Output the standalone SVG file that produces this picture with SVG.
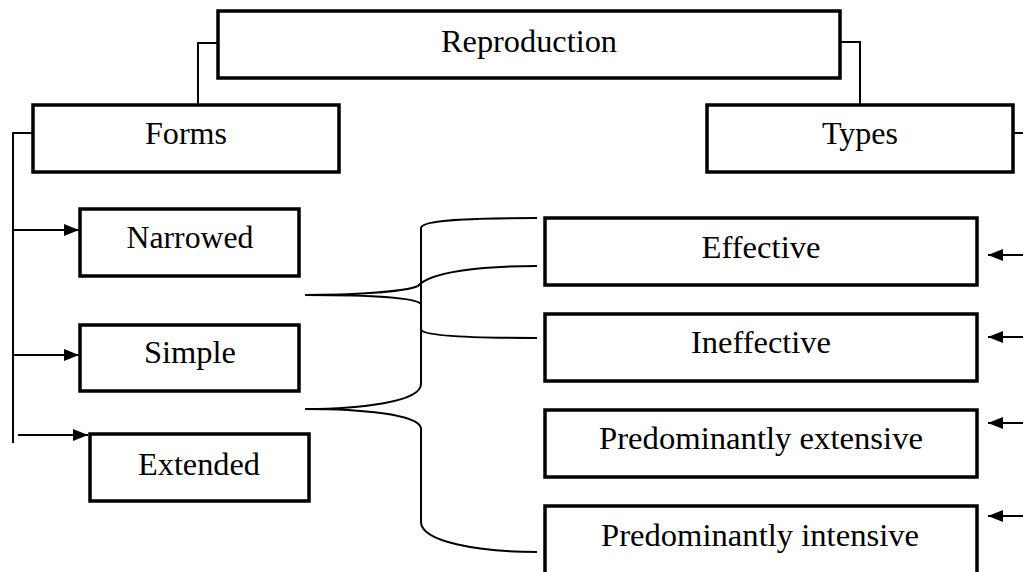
<svg xmlns="http://www.w3.org/2000/svg" width="1023" height="572" viewBox="0 0 1023 572">
<style>
.box{fill:#fff;stroke:#000;stroke-width:3.5}
.t{font-family:"Liberation Serif","Times New Roman",serif;font-size:32px;fill:#000;text-anchor:middle}
.c{fill:none;stroke:#000;stroke-width:2}
</style>
<defs>
<marker id="ah" viewBox="0 0 15 12" refX="15" refY="6" markerWidth="15" markerHeight="12" markerUnits="userSpaceOnUse" orient="auto">
<path d="M0,0 L15,6 L0,12 Z" fill="#000"/>
</marker>
</defs>
<g id="connectors">
<path class="c" d="M218,43 H198 V113"/>
<path class="c" d="M840,42 H860 V112"/>
<path class="c" d="M1013,133 H1023"/>
<path class="c" d="M33,133 H13 V443"/>
<path class="c" d="M13,230 H79" marker-end="url(#ah)"/>
<path class="c" d="M13,355 H79" marker-end="url(#ah)"/>
<path class="c" d="M18,435 H88" marker-end="url(#ah)"/>
<path class="c" d="M1023,255 H988" marker-end="url(#ah)"/>
<path class="c" d="M1023,337 H988" marker-end="url(#ah)"/>
<path class="c" d="M1023,423 H988" marker-end="url(#ah)"/>
<path class="c" d="M1023,516 H988" marker-end="url(#ah)"/>
<path class="c" d="M537,218 C470,218 421,220 421,228 V384 C421,402 360,409 305,409"/>
<path class="c" d="M305,295 C360,295 415,297 421,304"/>
<path class="c" d="M421,330 C425,336 480,338 537,338"/>
<path class="c" d="M305,295 C350,295 405,292 418,286 C430,272 480,266 537,266"/>
<path class="c" d="M305,409 C360,409 418,414 421,428 V522 C421,542 480,552 537,552"/>
</g>
<g id="reproduction"><rect class="box" x="218" y="11" width="622" height="67"/><text class="t" x="529" y="52" textLength="176" lengthAdjust="spacingAndGlyphs">Reproduction</text></g>
<g id="forms"><rect class="box" x="33" y="105" width="306" height="67"/><text class="t" x="186" y="144" textLength="82" lengthAdjust="spacingAndGlyphs">Forms</text></g>
<g id="types"><rect class="box" x="707" y="105" width="306" height="67"/><text class="t" x="860" y="144" textLength="76" lengthAdjust="spacingAndGlyphs">Types</text></g>
<g id="narrowed"><rect class="box" x="80" y="209" width="219" height="67"/><text class="t" x="190" y="248" textLength="127" lengthAdjust="spacingAndGlyphs">Narrowed</text></g>
<g id="simple"><rect class="box" x="80" y="325" width="219" height="66"/><text class="t" x="190" y="363" textLength="92" lengthAdjust="spacingAndGlyphs">Simple</text></g>
<g id="extended"><rect class="box" x="90" y="434" width="219" height="67"/><text class="t" x="199" y="475" textLength="122" lengthAdjust="spacingAndGlyphs">Extended</text></g>
<g id="effective"><rect class="box" x="545" y="218" width="432" height="67"/><text class="t" x="761" y="258" textLength="119" lengthAdjust="spacingAndGlyphs">Effective</text></g>
<g id="ineffective"><rect class="box" x="545" y="314" width="432" height="67"/><text class="t" x="761" y="353" textLength="140" lengthAdjust="spacingAndGlyphs">Ineffective</text></g>
<g id="extensive"><rect class="box" x="545" y="410" width="432" height="67"/><text class="t" x="761" y="449" textLength="324" lengthAdjust="spacingAndGlyphs">Predominantly extensive</text></g>
<g id="intensive"><rect class="box" x="545" y="506" width="432" height="80"/><text class="t" x="760" y="546" textLength="318" lengthAdjust="spacingAndGlyphs">Predominantly intensive</text></g>
</svg>
